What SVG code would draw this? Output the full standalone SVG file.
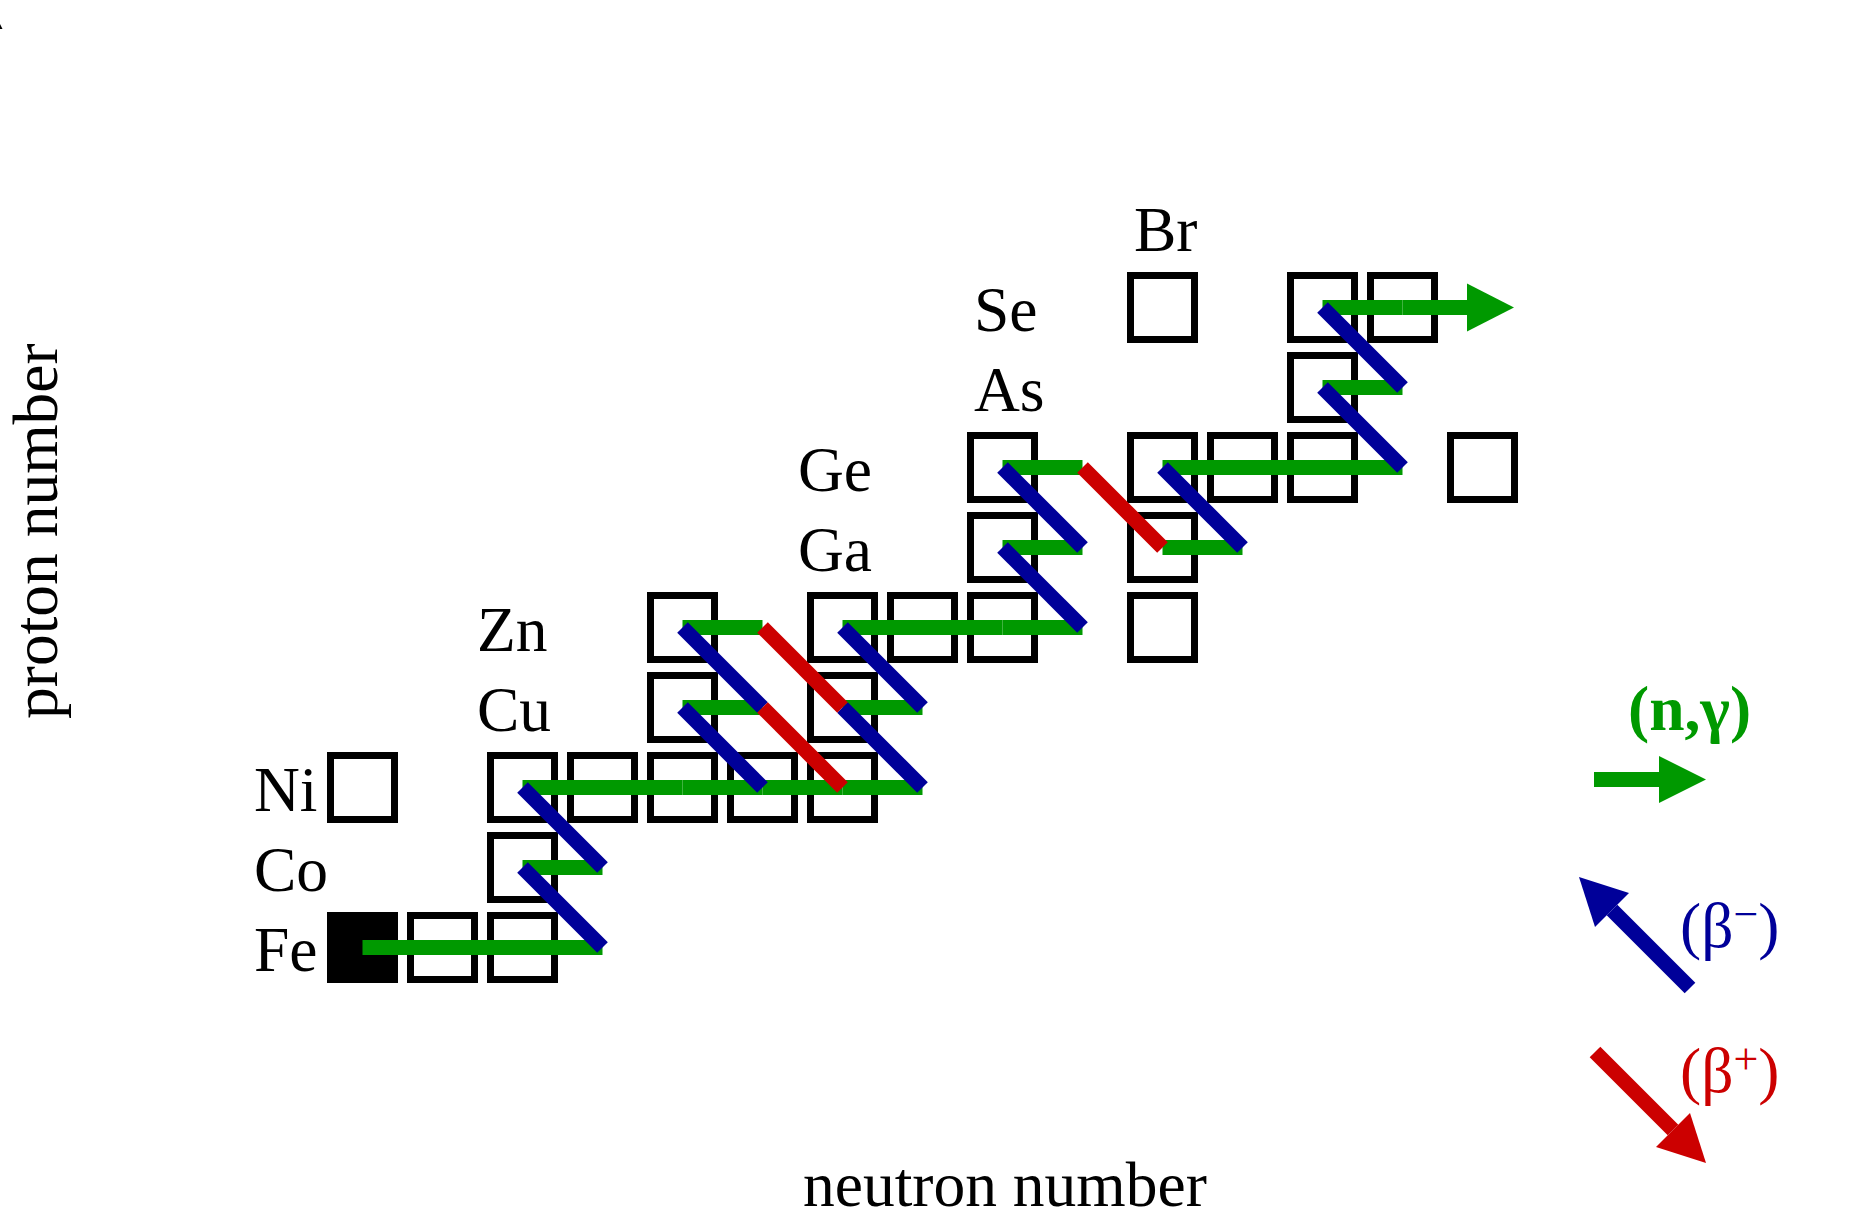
<svg xmlns="http://www.w3.org/2000/svg" width="1873" height="1220" viewBox="0 0 1873 1220">
  <style>
    text { font-family: "Liberation Serif", "Times New Roman", serif; font-size: 63.5px; fill: #000; }
    .sup { font-size: 44px; }
    .box { fill: none; stroke: #000; stroke-width: 7; }
    .stable { fill: #000; }
    .ng { stroke: #009900; stroke-width: 15; fill: none; }
    .bm { stroke: #000099; stroke-width: 15; fill: none; }
    .bp { stroke: #cc0000; stroke-width: 15; fill: none; }
    .ngfill { fill: #009900; }
    .bmfill { fill: #000099; }
    .bpfill { fill: #cc0000; }
  </style>

  <rect x="0" y="0" width="1873" height="1220" fill="#fff"/>
  <polygon points="0,24 2.5,29 0,29" fill="#000"/>

  <!-- axis titles -->
  <text x="803" y="1206">neutron number</text>
  <text transform="translate(57,719) rotate(-90)">proton number</text>

  <!-- element labels: baseline = row centre + 23 -->
  <g id="labels">
    <text x="254" y="970.5">Fe</text>
    <text x="254" y="890.5">Co</text>
    <text x="254" y="810.5">Ni</text>
    <text x="477" y="730.5">Cu</text>
    <text x="477" y="650.5">Zn</text>
    <text x="798" y="570.5">Ga</text>
    <text x="798" y="490.5">Ge</text>
    <text x="974" y="410.5">As</text>
    <text x="974" y="330.5">Se</text>
    <text x="1134" y="250.5">Br</text>
  </g>

  <!-- isotope cells: column pitch 80 (x = 362.5 + 80k), row pitch 80 (y = 947.5 - 80r) -->
  <g id="fe56"><rect class="box stable" x="330.5" y="915.5" width="64" height="64"/></g>
  <g id="fe57"><rect class="box" x="410.5" y="915.5" width="64" height="64"/></g>
  <g id="fe58"><rect class="box" x="490.5" y="915.5" width="64" height="64"/></g>
  <g id="co59"><rect class="box" x="490.5" y="835.5" width="64" height="64"/></g>
  <g id="ni58"><rect class="box" x="330.5" y="755.5" width="64" height="64"/></g>
  <g id="ni60"><rect class="box" x="490.5" y="755.5" width="64" height="64"/></g>
  <g id="ni61"><rect class="box" x="570.5" y="755.5" width="64" height="64"/></g>
  <g id="ni62"><rect class="box" x="650.5" y="755.5" width="64" height="64"/></g>
  <g id="ni63"><rect class="box" x="730.5" y="755.5" width="64" height="64"/></g>
  <g id="ni64"><rect class="box" x="810.5" y="755.5" width="64" height="64"/></g>
  <g id="cu63"><rect class="box" x="650.5" y="675.5" width="64" height="64"/></g>
  <g id="cu65"><rect class="box" x="810.5" y="675.5" width="64" height="64"/></g>
  <g id="zn64"><rect class="box" x="650.5" y="595.5" width="64" height="64"/></g>
  <g id="zn66"><rect class="box" x="810.5" y="595.5" width="64" height="64"/></g>
  <g id="zn67"><rect class="box" x="890.5" y="595.5" width="64" height="64"/></g>
  <g id="zn68"><rect class="box" x="970.5" y="595.5" width="64" height="64"/></g>
  <g id="zn70"><rect class="box" x="1130.5" y="595.5" width="64" height="64"/></g>
  <g id="ga69"><rect class="box" x="970.5" y="515.5" width="64" height="64"/></g>
  <g id="ga71"><rect class="box" x="1130.5" y="515.5" width="64" height="64"/></g>
  <g id="ge70"><rect class="box" x="970.5" y="435.5" width="64" height="64"/></g>
  <g id="ge72"><rect class="box" x="1130.5" y="435.5" width="64" height="64"/></g>
  <g id="ge73"><rect class="box" x="1210.5" y="435.5" width="64" height="64"/></g>
  <g id="ge74"><rect class="box" x="1290.5" y="435.5" width="64" height="64"/></g>
  <g id="ge76"><rect class="box" x="1450.5" y="435.5" width="64" height="64"/></g>
  <g id="as75"><rect class="box" x="1290.5" y="355.5" width="64" height="64"/></g>
  <g id="se74"><rect class="box" x="1130.5" y="275.5" width="64" height="64"/></g>
  <g id="se76"><rect class="box" x="1290.5" y="275.5" width="64" height="64"/></g>
  <g id="se77"><rect class="box" x="1370.5" y="275.5" width="64" height="64"/></g>

  <!-- reaction path -->
  <g id="connectors">
    <!-- neutron captures -->
    <line class="ng" x1="362.5" y1="947.5" x2="602.5" y2="947.5"/>
    <line class="ng" x1="522.5" y1="867.5" x2="602.5" y2="867.5"/>
    <line class="ng" x1="522.5" y1="787.5" x2="682.5" y2="787.5"/>
    <line class="ng" x1="682.5" y1="787.5" x2="762.5" y2="787.5"/>
    <line class="ng" x1="762.5" y1="787.5" x2="842.5" y2="787.5"/>
    <line class="ng" x1="842.5" y1="787.5" x2="922.5" y2="787.5"/>
    <line class="ng" x1="682.5" y1="707.5" x2="762.5" y2="707.5"/>
    <line class="ng" x1="842.5" y1="707.5" x2="922.5" y2="707.5"/>
    <line class="ng" x1="682.5" y1="627.5" x2="762.5" y2="627.5"/>
    <line class="ng" x1="842.5" y1="627.5" x2="1002.5" y2="627.5"/>
    <line class="ng" x1="1002.5" y1="627.5" x2="1082.5" y2="627.5"/>
    <line class="ng" x1="1002.5" y1="547.5" x2="1082.5" y2="547.5"/>
    <line class="ng" x1="1162.5" y1="547.5" x2="1242.5" y2="547.5"/>
    <line class="ng" x1="1002.5" y1="467.5" x2="1082.5" y2="467.5"/>
    <line class="ng" x1="1162.5" y1="467.5" x2="1402.5" y2="467.5"/>
    <line class="ng" x1="1322.5" y1="387.5" x2="1402.5" y2="387.5"/>
    <line class="ng" x1="1322.5" y1="307.5" x2="1402.5" y2="307.5"/>
    <line class="ng" x1="1402.5" y1="307.5" x2="1467" y2="307.5"/>
    <polygon class="ngfill" points="1467,283.5 1514,307.5 1467,331.5"/>

    <!-- beta-minus decays -->
    <line class="bm" x1="602.5" y1="947.5" x2="522.5" y2="867.5"/>
    <line class="bm" x1="602.5" y1="867.5" x2="522.5" y2="787.5"/>
    <line class="bm" x1="762.5" y1="787.5" x2="682.5" y2="707.5"/>
    <line class="bm" x1="762.5" y1="707.5" x2="682.5" y2="627.5"/>
    <line class="bm" x1="922.5" y1="787.5" x2="842.5" y2="707.5"/>
    <line class="bm" x1="922.5" y1="707.5" x2="842.5" y2="627.5"/>
    <line class="bm" x1="1082.5" y1="627.5" x2="1002.5" y2="547.5"/>
    <line class="bm" x1="1082.5" y1="547.5" x2="1002.5" y2="467.5"/>
    <line class="bm" x1="1242.5" y1="547.5" x2="1162.5" y2="467.5"/>
    <line class="bm" x1="1402.5" y1="467.5" x2="1322.5" y2="387.5"/>
    <line class="bm" x1="1402.5" y1="387.5" x2="1322.5" y2="307.5"/>

    <!-- beta-plus decays -->
    <line class="bp" x1="762.5" y1="707.5" x2="842.5" y2="787.5"/>
    <line class="bp" x1="762.5" y1="627.5" x2="842.5" y2="707.5"/>
    <line class="bp" x1="1082.5" y1="467.5" x2="1162.5" y2="547.5"/>
  </g>

  <!-- key -->
  <g id="legend">
    <text x="1628" y="730" font-weight="bold" style="fill:#009900">(n,γ)</text>
    <line class="ng" x1="1594" y1="779.5" x2="1659" y2="779.5"/>
    <polygon class="ngfill" points="1659,756 1706,779.5 1659,803"/>

    <line class="bm" x1="1690" y1="988" x2="1612" y2="910"/>
    <polygon class="bmfill" points="1629,893 1579,877 1595,927"/>
    <text x="1680" y="947" style="fill:#000099">(β<tspan class="sup" dy="-18">−</tspan><tspan dy="18">)</tspan></text>

    <line class="bp" x1="1595" y1="1052" x2="1673" y2="1130"/>
    <polygon class="bpfill" points="1690,1113 1706,1163 1656,1147"/>
    <text x="1680" y="1092" style="fill:#cc0000">(β<tspan class="sup" dy="-18">+</tspan><tspan dy="18">)</tspan></text>
  </g>
</svg>
